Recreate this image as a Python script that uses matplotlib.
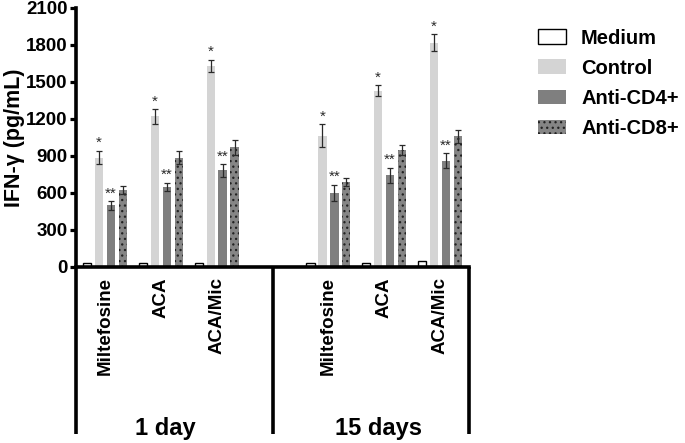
import matplotlib
matplotlib.use("Agg")
import matplotlib.pyplot as plt
import numpy as np

plt.rcParams['font.family'] = ['Liberation Sans', 'DejaVu Sans']
plt.rcParams['font.weight'] = 'bold'
plt.rcParams['hatch.linewidth'] = 0.9

treatments = ["Miltefosine", "ACA", "ACA/Mic", "Miltefosine", "ACA", "ACA/Mic"]
periods = ["1 day", "15 days"]
series = ["Medium", "Control", "Anti-CD4+", "Anti-CD8+"]

medium = [30, 32, 33, 35, 35, 45]
control = [887, 1221, 1631, 1064, 1428, 1818]
cd4 = [500, 650, 783, 600, 744, 863]
cd8 = [625, 887, 969, 690, 950, 1059]

medium_err = [3, 3, 3, 3, 3, 4]
control_err = [55, 60, 50, 95, 45, 70]
cd4_err = [35, 35, 50, 65, 60, 60]
cd8_err = [30, 55, 60, 30, 40, 50]

control_sig = ["*", "*", "*", "*", "*", "*"]
cd4_sig = ["**", "**", "**", "**", "**", "**"]

yticks = [0, 300, 600, 900, 1200, 1500, 1800, 2100]

positions = np.array([0, 1, 2, 4, 5, 6], dtype=float)

fig = plt.figure(figsize=(6.85, 4.43), dpi=100)
ax = fig.add_axes([0.111, 0.3973, 0.5737, 0.5847])

w = 0.15
offs = [-0.32, -0.107, 0.107, 0.32]
styles = [
    dict(facecolor="white", edgecolor="black", linewidth=1.0),
    dict(facecolor="#d4d4d4", edgecolor="none"),
    dict(facecolor="#7f7f7f", edgecolor="none"),
    dict(facecolor="#858585", edgecolor="#222222", hatch="...", linewidth=0),
]
vals = [medium, control, cd4, cd8]
errs = [medium_err, control_err, cd4_err, cd8_err]
handles = []
for i in range(4):
    b = ax.bar(positions + offs[i], vals[i], width=w, zorder=2, **styles[i])
    handles.append(b)
    if i > 0:
        ax.errorbar(positions + offs[i], vals[i], yerr=errs[i], fmt="none",
                    ecolor="#2a2a2a", elinewidth=0.9, capsize=1.9, capthick=0.9, zorder=3)

for x, v, e, s in zip(positions + offs[1], control, control_err, control_sig):
    ax.annotate(s, (x, v + e), xytext=(0, 0.5), textcoords="offset points",
                ha="center", va="bottom", fontsize=11, fontweight="normal", color="#2a2a2a")
for x, v, e, s in zip(positions + offs[2], cd4, cd4_err, cd4_sig):
    ax.annotate(s, (x, v + e), xytext=(0, 0.5), textcoords="offset points",
                ha="center", va="bottom", fontsize=11, fontweight="normal", color="#2a2a2a")

ax.set_xlim(-0.52, 6.52)
ax.set_ylim(0, 2100)
ax.set_yticks(yticks)
ax.set_yticklabels([str(t) for t in yticks], fontsize=13.5, fontweight="bold")
ax.set_xticks(positions)
ax.set_xticklabels(treatments, rotation=90, fontsize=13.5, fontweight="bold", va="top")
ax.tick_params(axis="x", length=0, pad=7.5)
ax.tick_params(axis="y", length=4.5, width=2.3, pad=1.5)

for s in ["top", "right"]:
    ax.spines[s].set_visible(False)
for s in ["left", "bottom"]:
    ax.spines[s].set_linewidth(2.6)

ax.set_ylabel("IFN-γ (pg/mL)", fontsize=15.5, fontweight="bold", labelpad=1)

# lower bracket box lines
for xv in [-0.52, 3.0, 6.52]:
    ax.axvline(xv, ymin=-0.643, ymax=0, color="black", linewidth=2.6, clip_on=False,
               solid_capstyle="butt")

for xv, lab in zip([1.087, 4.89], periods):
    ax.text(xv, -0.65, lab, transform=ax.get_xaxis_transform(), ha="center",
            va="baseline", fontsize=17, fontweight="bold")

fig.legend(handles, series, loc="upper left", bbox_to_anchor=(0.785, 0.935),
           frameon=False, handlelength=1.4, handleheight=0.75,
           handletextpad=0.75, labelspacing=0.55, borderpad=0, borderaxespad=0,
           prop=dict(weight="bold", size=14.5))

fig.savefig("out.png", dpi=100)
